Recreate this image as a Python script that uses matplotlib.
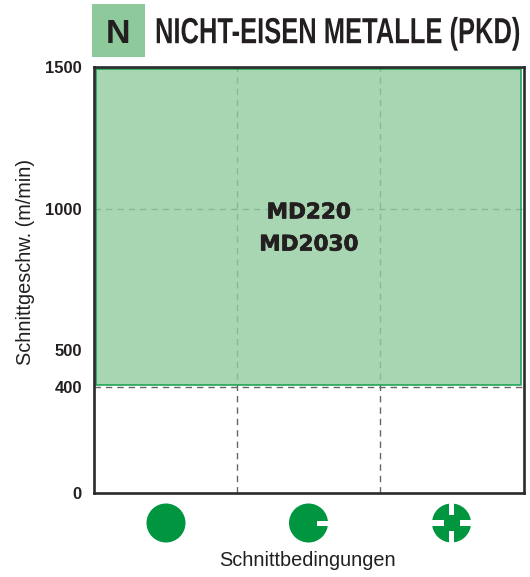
import numpy as np
import matplotlib
matplotlib.use("Agg")
import matplotlib.pyplot as plt
from matplotlib.patches import Rectangle, Circle
from matplotlib.patheffects import AbstractPathEffect, withStroke
from matplotlib.transforms import Affine2D

# --- data ---
speed_ticks = [0, 400, 500, 1000, 1500]
speed_tick_labels = ["0", "400", "500", "1000", "1500"]
grid_speeds = [400, 1000]
grid_conditions = [1, 2]
range_low = 405
range_high = 1493
range_left = 0.014
range_right = 2.981
range_labels = ["MD220", "MD2030"]
range_label_speeds = [989, 875]
condition_count = 3
title = "NICHT-EISEN METALLE (PKD)"
group_letter = "N"
ylabel = "Schnittgeschw. (m/min)"
xlabel = "Schnittbedingungen"
# the reference's speed axis is not linear: value -> px above the baseline
scale_values = [0, 400, 500, 1000, 1500]
scale_pixels = [0, 106.3, 143, 284, 426.3]

W, H = 530, 577
GREEN = "#00953f"
INK = "#231f20"
plt.rcParams["font.family"] = ["Liberation Sans", "DejaVu Sans"]

fig = plt.figure(figsize=(W / 100, H / 100), dpi=100)
L, R, T, B = 94, 523.5, 67, 493.3
ax = fig.add_axes([L / W, 1 - B / H, (R - L) / W, (B - T) / H])


def fwd(v):
    return np.interp(v, scale_values, scale_pixels)


def inv(p):
    return np.interp(p, scale_pixels, scale_values)


ax.set_yscale("function", functions=(fwd, inv))
ax.set_xlim(0, condition_count)
ax.set_ylim(0, 1500)
ax.set_xticks([])
ax.set_yticks(speed_ticks)
ax.set_yticklabels(speed_tick_labels, fontsize=12, fontweight="bold", color=INK)
ax.minorticks_off()
ax.tick_params(axis="y", length=0, pad=8.8)
for s in ax.spines.values():
    s.set_linewidth(1.9)
    s.set_color("#2b2a2a")
    s.set_zorder(6)

dash = (0, (4.6, 3.6))
for x in grid_conditions:
    ax.plot([x, x], [0, 1500], color="#666666", lw=1.0, ls=dash, zorder=1)
for y in grid_speeds:
    ax.plot([0, condition_count], [y, y], color="#666666", lw=1.0, ls=dash, zorder=1)

ax.add_patch(Rectangle((range_left, range_low), range_right - range_left,
                       range_high - range_low, facecolor="#94cc9f", alpha=0.8,
                       edgecolor="none", zorder=2))
ax.add_patch(Rectangle((range_left, range_low), range_right - range_left,
                       range_high - range_low, facecolor="none",
                       edgecolor="#12a050", lw=1.1, zorder=3))

for label, speed in zip(range_labels, range_label_speeds):
    ax.text(1.5, speed, label, family="DejaVu Sans", fontweight="bold",
            fontsize=15.5, color=INK, ha="center", va="center", zorder=5,
            path_effects=[withStroke(linewidth=0.5, foreground=INK)])

# overlay in reference pixel coordinates for header and icons
ov = fig.add_axes([0, 0, 1, 1], facecolor="none")
ov.set_xlim(0, W)
ov.set_ylim(H, 0)
ov.axis("off")

ov.add_patch(Rectangle((92, 4), 52.5, 53, facecolor="#8ec99b", edgecolor="none"))
ov.text(118.5, 42.7, group_letter, fontsize=24.5, fontweight="bold", color=INK,
        ha="center", va="baseline")


class StretchY(AbstractPathEffect):
    """Draws the glyphs taller, like the condensed face of the reference."""

    def __init__(self, sy, y0):
        super().__init__()
        self.sy, self.y0 = sy, y0

    def draw_path(self, renderer, gc, tpath, affine, rgbFace=None):
        a = affine + Affine2D().translate(0, -self.y0).scale(1, self.sy).translate(0, self.y0)
        renderer.draw_path(gc, tpath, a, rgbFace)


TITLE_BASE = 43.2
t = ov.text(155, TITLE_BASE, title, fontsize=16, fontweight="bold", color=INK,
            ha="left", va="baseline")
ext = t.get_window_extent(fig.canvas.get_renderer())
fs = 16 * 366 / ext.width
t.set_fontsize(fs)
cap_px = 0.716 * fs * 100 / 72
t.set_path_effects([StretchY(26 / cap_px, H - TITLE_BASE)])

cy, r = 523, 19.5
cxs = [166, 308.5, 451.5]
for cx in cxs:
    ov.add_patch(Circle((cx, cy), r, facecolor=GREEN, edgecolor="none"))
# notch
ov.add_patch(Rectangle((cxs[1] + 8, cy - 2.5), 13, 5, facecolor="white", edgecolor="none"))
# cross slots
cx = cxs[2]
sw = 5.4
for rect in [(cx - sw / 2, cy - 21, sw, 13), (cx - sw / 2, cy + 8, sw, 13),
             (cx - 21, cy - sw / 2, 13, sw), (cx + 8, cy - sw / 2, 13, sw)]:
    ov.add_patch(Rectangle(rect[:2], rect[2], rect[3], facecolor="white", edgecolor="none"))

ov.text(25.5, 262, ylabel, fontsize=14.3, color=INK, rotation=90, ha="center", va="center")
ov.text(307, 560.5, xlabel, fontsize=14.3, color=INK, ha="center", va="center")

fig.savefig("out.png", dpi=100)
